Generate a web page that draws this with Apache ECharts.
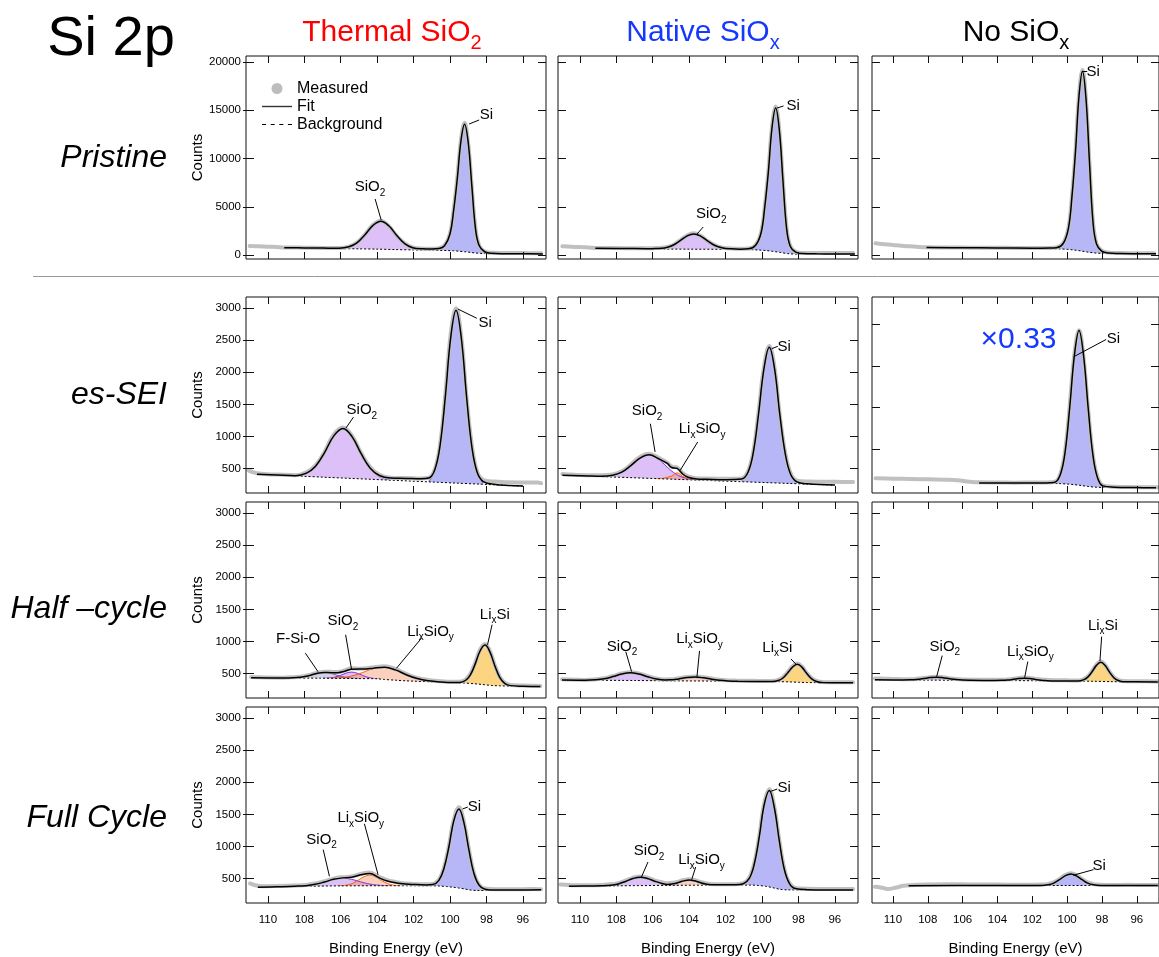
<!DOCTYPE html>
<html>
<head>
<meta charset="utf-8">
<script src="https://cdn.jsdelivr.net/npm/echarts@6/dist/echarts.min.js"></script>
<style>
  html, body { margin: 0; padding: 0; background: #fff; }
  #chart { width: 1159px; height: 957px; }
</style>
</head>
<body>
<div id="chart"></div>
<script>
// ---- data: binding energy (eV) vs counts ----
// row 1: pristine
const pThBg = [[109.1,700],[107,685],[106,660],[105,640],[104,610],[103,565],[102,530],[101,500],[100.6,485],[100.2,465],[99.8,440],[99.5,395],[99.2,340],[98.9,275],[98.6,210],[98.3,170],[98,145],[97.4,120],[96,105],[94.9,100]];
const pThSiO2 = [[106.1,655],[105.55,825],[105.11,1245],[104.68,2075],[104.24,3050],[103.8,3500],[103.36,3020],[102.93,2020],[102.49,1160],[102.05,715],[101.5,515]];
const pThSi = [[100.8,490],[100.3,900],[100,2150],[99.8,4600],[99.6,7900],[99.4,11800],[99.2,13540],[99,11650],[98.8,7100],[98.6,2700],[98.4,950],[98.1,300],[97.7,132]];
const pThFit = [[109.1,760],[108,740],[107,720],[106.1,700],[105.55,850],[105.11,1260],[104.68,2080],[104.24,3050],[103.8,3510],[103.36,3030],[102.93,2040],[102.49,1190],[102.05,760],[101.5,640],[101,620],[100.6,670],[100.3,960],[100,2180],[99.8,4620],[99.6,7910],[99.4,11810],[99.2,13550],[99,11660],[98.8,7115],[98.6,2715],[98.4,980],[98.1,340],[97.7,175],[97,140],[96,125],[94.9,115]];
const pThMeas = [[111,930],[110.5,900],[110,870],[109.5,830],[109.1,790],[108,760],[107,735],[106.1,720],[105.55,880],[105.11,1300],[104.68,2100],[104.24,3100],[103.8,3560],[103.36,3000],[102.93,2000],[102.49,1210],[102.05,790],[101.5,660],[101,640],[100.6,710],[100.3,980],[100,2200],[99.8,4700],[99.6,8000],[99.4,11900],[99.2,13700],[99,11500],[98.8,6950],[98.6,2750],[98.4,1000],[98.1,370],[97.7,230],[97,210],[96,200],[95,190]];
const pThLabels = [[104.39,7048,'SiO2'],[98.0,14508,'Si']];
const pThLeaders = [[[104.11,5805],[103.78,3630]],[[98.95,13575],[98.4,13990]]];

const pNaBg = [[109.15,640],[107,625],[106,620],[104,605],[102,590],[101,570],[100.6,550],[100.2,520],[99.8,470],[99.4,380],[99,270],[98.6,150],[98.2,100],[97.5,85],[96,75],[94.9,70]];
const pNaSiO2 = [[105.83,615],[105.35,707],[104.95,942],[104.55,1398],[104.15,1933],[103.75,2185],[103.35,1930],[102.95,1390],[102.55,929],[102.15,688],[101.67,585]];
const pNaSi = [[100.75,565],[100.35,970],[100.05,2290],[99.85,4940],[99.65,8620],[99.45,13200],[99.25,15230],[99.05,12950],[98.85,7680],[98.65,2710],[98.45,884],[98.15,250],[97.75,85]];
const pNaFit = [[109.15,700],[107.5,680],[106.3,660],[105.83,680],[105.35,740],[104.95,960],[104.55,1410],[104.15,1940],[103.75,2190],[103.35,1940],[102.95,1410],[102.55,960],[102.15,730],[101.67,640],[101.2,610],[100.75,640],[100.35,1010],[100.05,2310],[99.85,4950],[99.65,8630],[99.45,13210],[99.25,15240],[99.05,12960],[98.85,7700],[98.65,2740],[98.45,920],[98.15,300],[97.75,150],[97,120],[96,110],[94.9,105]];
const pNaMeas = [[110.96,900],[110.5,860],[110,820],[109.5,770],[109.15,740],[108,720],[107,700],[106.3,690],[105.83,720],[105.35,780],[104.95,980],[104.55,1450],[104.15,1980],[103.75,2250],[103.35,1960],[102.95,1400],[102.55,990],[102.15,760],[101.67,680],[101.2,650],[100.75,680],[100.35,1050],[100.05,2350],[99.85,5000],[99.65,8700],[99.45,13300],[99.25,15400],[99.05,12900],[98.85,7600],[98.65,2800],[98.45,950],[98.15,330],[97.75,220],[97,210],[96,200],[95,200]];
const pNaLabels = [[102.79,4251,'SiO2'],[98.29,15440,'Si']];
const pNaLeaders = [[[103.23,2904],[103.56,2180]],[[99.17,15232],[98.82,15440]]];

const pNoBg = [[108.07,740],[106,720],[104,700],[102,675],[101,660],[100.4,630],[100,590],[99.6,520],[99.2,420],[98.8,300],[98.4,210],[98,170],[97,120],[96,105],[94.9,100]];
const pNoSi = [[100.62,700],[100.22,1180],[99.92,2820],[99.72,6135],[99.52,10750],[99.32,16470],[99.12,19030],[98.92,16190],[98.72,9600],[98.52,3420],[98.32,1130],[98.02,350],[97.62,140]];
const pNoFit = [[108.07,780],[106,760],[104,740],[102,715],[101,720],[100.62,760],[100.22,1220],[99.92,2850],[99.72,6150],[99.52,10760],[99.32,16480],[99.12,19040],[98.92,16200],[98.72,9620],[98.52,3450],[98.32,1170],[98.02,400],[97.62,200],[97,160],[96,140],[94.9,130]];
const pNoMeas = [[111,1210],[110.5,1120],[110,1040],[109.5,960],[109,900],[108.5,840],[108.07,810],[107,780],[106,770],[105,760],[104,750],[103,740],[102,730],[101,740],[100.62,790],[100.22,1260],[99.92,2900],[99.72,6200],[99.52,10800],[99.32,16600],[99.12,19200],[98.92,16100],[98.72,9500],[98.52,3500],[98.32,1200],[98.02,450],[97.62,250],[97,210],[96,190],[95,180]];
const pNoLabels = [[98.51,18962,'Si']];
const pNoLeaders = [[[99.1,19000],[98.85,19000]]];

// row 2: es-SEI
const eThBg = [[110.6,410],[96,225]];
const eThSiO2 = [[108.48,383],[107.88,424],[107.38,531],[106.88,749],[106.38,1005],[105.88,1122],[105.38,992],[104.88,724],[104.38,494],[103.88,373],[103.28,317]];
const eThSi = [[101.17,300],[100.83,454],[100.54,849],[100.25,1625],[99.96,2537],[99.67,2965],[99.38,2530],[99.09,1610],[98.8,826],[98.51,425],[98.17,272]];
const eThFit = [[110.6,410],[109.5,398],[108.48,388],[107.88,428],[107.38,535],[106.88,752],[106.38,1008],[105.88,1125],[105.38,996],[104.88,730],[104.38,503],[103.88,390],[103.28,350],[102.4,345],[101.6,340],[101.17,350],[100.83,485],[100.54,870],[100.25,1640],[99.96,2545],[99.67,2968],[99.38,2535],[99.09,1615],[98.8,835],[98.51,440],[98.17,295],[97.5,250],[96.8,235],[96,225]];
const eThMeas = [[111.07,470],[110.8,440],[110.6,425],[110,410],[109.5,405],[108.48,395],[107.88,440],[107.38,550],[106.88,760],[106.38,1030],[105.88,1140],[105.38,1010],[104.88,740],[104.38,520],[103.88,400],[103.28,355],[102.4,350],[101.6,345],[101.17,355],[100.83,490],[100.54,880],[100.25,1680],[99.96,2600],[99.67,3000],[99.38,2550],[99.09,1600],[98.8,860],[98.51,450],[98.17,320],[97.6,295],[96.8,285],[96,282],[95.2,280],[95,270]];
const eThLabels = [[104.84,1412,'SiO2'],[98.07,2776,'Si']];
const eThLeaders = [[[105.30,1300],[105.72,1128]],[[99.57,2988],[98.53,2843]]];

const eNaBg = [[110.96,395],[96,240]];
const eNaSiO2 = [[108.8,373],[108.2,390],[107.7,438],[107.2,540],[106.7,659],[106.2,713],[105.7,648],[105.2,519],[104.7,407],[104.2,348],[103.6,319]];
const eNaLixSiOy = [[105.9,343],[105.5,344],[105.26,357],[104.96,383],[104.66,430],[104.36,377],[104.06,345],[103.8,327],[103.4,317]];
const eNaSi = [[101.12,308],[100.77,420],[100.48,728],[100.19,1334],[99.89,2047],[99.6,2380],[99.31,2041],[99.02,1322],[98.72,710],[98.43,396],[98.08,277]];
const eNaFit = [[110.96,395],[109.5,382],[108.8,378],[108.2,394],[107.7,443],[107.2,545],[106.7,662],[106.2,715],[105.7,655],[105.2,578],[104.96,515],[104.66,500],[104.36,415],[104.06,362],[103.6,335],[103,330],[102,325],[101.12,335],[100.77,440],[100.48,745],[100.19,1350],[99.89,2060],[99.6,2392],[99.31,2052],[99.02,1335],[98.72,725],[98.43,410],[98.08,290],[97.5,260],[96,240]];
const eNaMeas = [[110.96,412],[110.5,405],[110,398],[109.5,395],[108.8,392],[108.2,405],[107.7,455],[107.2,560],[106.7,680],[106.2,730],[105.7,672],[105.2,590],[104.96,530],[104.66,515],[104.36,430],[104.06,375],[103.6,348],[103,342],[102,338],[101.12,345],[100.77,450],[100.48,760],[100.19,1380],[99.89,2090],[99.6,2410],[99.31,2070],[99.02,1320],[98.72,740],[98.43,425],[98.08,310],[97.5,295],[96.5,292],[95.5,290],[95,288]];
const eNaLabels = [[106.31,1397,'SiO2'],[103.29,1116,'LixSiOy'],[98.79,2395,'Si']];
const eNaLeaders = [[[106.13,1198],[105.87,757]],[[103.53,913],[104.49,472]],[[99.47,2368],[99.13,2406]]];

// no-oxide es-SEI panel is plotted x0.33 on its own scale
const eNoBg = [[105.05,190],[101,185],[100.4,178],[100,170],[99.6,155],[99.2,135],[98.8,112],[98.4,95],[97.9,88],[96,82],[94.9,80]];
const eNoSi = [[100.69,200],[100.37,407],[100.11,948],[99.85,2011],[99.58,3258],[99.32,3840],[99.06,3238],[98.79,1957],[98.53,875],[98.27,323],[97.95,108]];
const eNoFit = [[105.05,195],[103,193],[101.5,195],[101,200],[100.69,215],[100.37,420],[100.11,960],[99.85,2020],[99.58,3265],[99.32,3845],[99.06,3245],[98.79,1965],[98.53,885],[98.27,335],[97.95,125],[97.3,95],[96,85],[94.9,80]];
const eNoMeas = [[111,307],[110,298],[109,290],[108,282],[107,272],[106.3,260],[105.6,225],[105.05,210],[104,205],[103,203],[102,205],[101.3,208],[100.69,225],[100.37,440],[100.11,990],[99.85,2060],[99.58,3300],[99.32,3850],[99.06,3200],[98.79,1930],[98.53,880],[98.27,350],[97.95,140],[97.3,105],[96,95],[94.8,90]];
const eNoLabels = [[97.35,3647,'Si'],[102.79,3618,'x0.33']];
const eNoLeaders = [[[99.62,3217],[97.76,3630]]];

// row 3: half cycle
const hThBg = [[110.92,432],[107.1,426],[105,420],[104,417],[103.6,406],[103,395],[102.4,384],[102,380],[101,369],[100,358],[99.6,354],[99.2,350],[98.7,340],[98.2,327],[97.7,312],[97.3,307],[96.5,302],[95.04,297]];
const hThFSiO = [[108.85,429],[108.4,434],[108.03,447],[107.65,472],[107.28,502],[106.9,515],[106.53,500],[106.15,468],[105.78,441],[105.4,427],[104.95,420]];
const hThSiO2 = [[106.96,425],[106.6,430],[106.3,444],[106,472],[105.7,506],[105.4,521],[105.1,504],[104.8,469],[104.5,439],[104.2,423],[103.84,411]];
const hThLixSiOy = [[106.7,424],[106,434],[105.4,461],[104.8,514],[104.2,577],[103.6,596],[103,555],[102.4,479],[101.8,418],[101.2,383],[100.5,364]];
const hThLixSi = [[99.48,358],[99.16,389],[98.89,474],[98.62,645],[98.35,849],[98.08,941],[97.81,835],[97.54,620],[97.27,437],[97,344],[96.68,308]];
const hThFit = [[110.92,432],[109.3,430],[108.85,430],[108.4,435],[108.03,448],[107.65,473],[107.28,503],[106.9,516],[106.53,512],[106.15,512],[105.78,535],[105.4,567],[105,568],[104.6,568],[104.2,583],[103.6,596],[103,556],[102.4,480],[101.8,420],[101.2,385],[100.5,366],[99.8,358],[99.48,360],[99.16,390],[98.89,475],[98.62,646],[98.35,850],[98.08,942],[97.81,836],[97.54,621],[97.27,438],[97,345],[96.68,310],[96,301],[95.04,297]];
const hThMeas = [[110.92,445],[110.5,440],[110,436],[109.3,434],[108.85,438],[108.4,445],[108.03,458],[107.65,482],[107.28,510],[106.9,528],[106.53,525],[106.15,522],[105.78,548],[105.4,580],[105,575],[104.6,580],[104.2,598],[103.6,612],[103,570],[102.4,492],[101.8,430],[101.2,398],[100.5,378],[99.8,370],[99.48,372],[99.16,400],[98.89,490],[98.62,665],[98.35,870],[98.08,960],[97.81,850],[97.54,630],[97.27,450],[97,358],[96.68,322],[96,312],[95.04,305]];
const hThLabels = [[108.34,1038,'F-Si-O'],[105.88,1314,'SiO2'],[101.07,1156,'LixSiOy'],[97.54,1418,'LixSi']];
const hThLeaders = [[[107.94,816],[107.25,529]],[[105.73,1103],[105.40,554]],[[101.56,1052],[102.94,581]],[[97.69,1261],[97.94,947]]];

const hNaBg = [[110.98,396],[107,390],[105,385],[102,380],[100,375],[99,372],[98.5,368],[98,362],[97.5,358],[96.5,356],[95,355]];
const hNaSiO2 = [[109.7,394],[109.13,401],[108.66,417],[108.18,451],[107.7,491],[107.23,510],[106.76,490],[106.28,448],[105.8,412],[105.33,394],[104.76,385]];
const hNaLixSiOy = [[106,387],[105.47,390],[105.02,398],[104.57,414],[104.12,434],[103.67,443],[103.22,432],[102.77,411],[102.32,393],[101.87,383],[101.33,378]];
const hNaLixSi = [[99.43,372],[99.11,388],[98.85,428],[98.59,508],[98.32,600],[98.06,641],[97.8,594],[97.54,497],[97.27,415],[97.01,374],[96.69,356]];
const hNaFit = [[110.98,396],[109.7,394],[109.13,401],[108.66,417],[108.18,451],[107.7,491],[107.23,510],[106.76,490],[106.28,449],[105.8,414],[105.33,399],[105.02,400],[104.57,415],[104.12,435],[103.67,443],[103.22,432],[102.77,411],[102.32,393],[101.87,383],[101.33,378],[100,375],[99.43,373],[99.11,389],[98.85,429],[98.59,509],[98.32,601],[98.06,642],[97.8,595],[97.54,498],[97.27,416],[97.01,375],[96.69,357],[95,355]];
const hNaMeas = [[110.98,408],[110.5,404],[110,400],[109.7,398],[109.13,408],[108.66,425],[108.18,460],[107.7,500],[107.23,520],[106.76,500],[106.28,458],[105.8,420],[105.33,406],[105.02,408],[104.57,424],[104.12,444],[103.67,452],[103.22,440],[102.77,420],[102.32,402],[101.87,392],[101.33,388],[100.5,385],[100,383],[99.43,381],[99.11,398],[98.85,440],[98.59,520],[98.32,612],[98.06,655],[97.8,605],[97.54,505],[97.27,425],[97.01,385],[96.69,368],[96,364],[95,362]];
const hNaLabels = [[107.69,919,'SiO2'],[103.43,1039,'LixSiOy'],[99.16,904,'LixSi']];
const hNaLeaders = [[[107.48,841],[107.16,529]],[[103.43,852],[103.57,450]],[[98.41,726],[98.13,643]]];

const hNoBg = [[111.03,401],[108,396],[104,390],[101,385],[99.6,382],[98.5,378],[97.5,372],[96.5,370],[94.8,368]];
const hNoSiO2 = [[109.45,398],[109,400],[108.63,407],[108.25,420],[107.88,435],[107.5,442],[107.13,434],[106.75,418],[106.38,404],[106,396],[105.55,393]];
const hNoLixSiOy = [[104.15,390],[103.76,392],[103.44,397],[103.11,408],[102.79,422],[102.46,427],[102.14,421],[101.81,406],[101.49,394],[101.16,388],[100.77,384]];
const hNoLixSi = [[99.37,381],[99.07,399],[98.82,442],[98.57,527],[98.32,626],[98.07,673],[97.82,623],[97.57,521],[97.32,434],[97.07,390],[96.77,370]];
const hNoFit = [[111.03,401],[109.45,398],[109,400],[108.63,407],[108.25,420],[107.88,435],[107.5,442],[107.13,434],[106.75,418],[106.38,404],[106,396],[105.55,393],[104.15,390],[103.76,392],[103.44,397],[103.11,408],[102.79,422],[102.46,427],[102.14,421],[101.81,406],[101.49,394],[101.16,388],[100.77,384],[99.37,381],[99.07,399],[98.82,442],[98.57,527],[98.32,626],[98.07,673],[97.82,623],[97.57,521],[97.32,434],[97.07,390],[96.77,370],[94.8,368]];
const hNoMeas = [[111.03,422],[110.5,418],[110,414],[109.45,410],[109,410],[108.63,416],[108.25,428],[107.88,442],[107.5,450],[107.13,442],[106.75,426],[106.38,413],[106,406],[105,402],[104.15,400],[103.76,402],[103.44,406],[103.11,416],[102.79,430],[102.46,435],[102.14,430],[101.81,415],[101.49,404],[101,397],[100,392],[99.37,390],[99.07,408],[98.82,452],[98.57,538],[98.32,636],[98.07,685],[97.82,632],[97.57,528],[97.32,442],[97.07,400],[96.77,382],[96,378],[94.8,376]];
const hNoLabels = [[107.02,919,'SiO2'],[102.11,841,'LixSiOy'],[97.95,1247,'LixSi']];
const hNoLeaders = [[[107.17,778],[107.49,450]],[[102.26,685],[102.44,434]],[[98.02,1075],[98.12,694]]];

// row 4: full cycle
const fThBg = [[110.55,360],[108,378],[106,384],[104,386],[101.2,386],[100.6,382],[100.2,374],[99.8,362],[99.5,350],[99.2,336],[98.9,320],[98.5,312],[97.5,315],[95,322]];
const fThSiO2 = [[108.5,378],[107.9,387],[107.4,407],[106.9,443],[106.4,485],[105.9,506],[105.4,486],[104.9,446],[104.4,412],[103.9,394],[103.3,386]];
const fThLixSiOy = [[106.1,384],[105.71,394],[105.39,419],[105.06,468],[104.74,524],[104.41,551],[104.09,525],[103.76,469],[103.44,421],[103.11,396],[102.72,386]];
const fThSi = [[100.94,395],[100.61,459],[100.34,637],[100.06,987],[99.79,1396],[99.51,1581],[99.24,1371],[98.96,936],[98.69,574],[98.41,389],[98.08,323]];
const fThFit = [[110.55,362],[109.5,370],[108.5,379],[107.9,388],[107.4,408],[106.9,444],[106.4,486],[105.9,509],[105.4,519],[104.9,557],[104.41,577],[103.9,510],[103.44,460],[103.11,440],[102.72,420],[102,405],[101.3,398],[100.94,405],[100.61,470],[100.34,648],[100.06,995],[99.79,1402],[99.51,1585],[99.24,1375],[98.96,942],[98.69,582],[98.41,398],[98.08,332],[97.5,318],[96,320],[95,322]];
const fThMeas = [[110.98,422],[110.7,395],[110.3,380],[109.5,382],[108.5,390],[107.9,398],[107.4,420],[106.9,455],[106.4,498],[105.9,520],[105.4,532],[104.9,570],[104.41,592],[103.9,525],[103.44,475],[103.11,452],[102.72,430],[102,415],[101.3,408],[100.94,415],[100.61,480],[100.34,660],[100.06,1010],[99.79,1420],[99.51,1610],[99.24,1390],[98.96,950],[98.69,590],[98.41,405],[98.08,342],[97.5,330],[96.5,332],[95.5,335],[95,333]];
const fThLabels = [[98.66,1623,'Si'],[104.90,1442,'LixSiOy'],[107.05,1105,'SiO2']];
const fThLeaders = [[[99.31,1584],[99.02,1615]],[[104.70,1353],[103.95,559]],[[106.96,949],[106.62,534]]];

const fNaBg = [[110.6,375],[108,385],[105,392],[102.3,396],[100.6,396],[100.2,390],[99.8,378],[99.4,355],[99,330],[98.6,322],[97,320],[95,318]];
const fNaSiO2 = [[108.77,385],[108.29,394],[107.89,414],[107.49,452],[107.09,497],[106.69,518],[106.29,498],[105.89,455],[105.49,419],[105.09,400],[104.61,393]];
const fNaLixSiOy = [[105.56,392],[105.2,397],[104.9,410],[104.6,434],[104.3,461],[104,475],[103.7,462],[103.4,435],[103.1,412],[102.8,400],[102.44,396]];
const fNaSi = [[101.03,408],[100.7,490],[100.43,708],[100.15,1139],[99.88,1642],[99.6,1867],[99.33,1610],[99.05,1082],[98.78,640],[98.5,416],[98.17,333]];
const fNaFit = [[110.6,378],[109.5,382],[108.77,386],[108.29,395],[107.89,415],[107.49,453],[107.09,498],[106.69,519],[106.29,499],[105.89,457],[105.49,421],[105.2,406],[104.9,416],[104.6,436],[104.3,462],[104,476],[103.7,463],[103.4,436],[103.1,413],[102.8,402],[102.2,400],[101.5,402],[101.03,418],[100.7,500],[100.43,718],[100.15,1148],[99.88,1650],[99.6,1872],[99.33,1615],[99.05,1088],[98.78,648],[98.5,425],[98.17,342],[97.5,325],[96,320],[95,318]];
const fNaMeas = [[111.07,406],[110.6,398],[110,392],[109.5,394],[108.77,398],[108.29,408],[107.89,428],[107.49,466],[107.09,510],[106.69,532],[106.29,512],[105.89,470],[105.49,440],[105.2,425],[104.9,432],[104.6,450],[104.3,475],[104,488],[103.7,475],[103.4,448],[103.1,425],[102.8,414],[102.2,410],[101.5,410],[101.03,425],[100.7,510],[100.43,730],[100.15,1160],[99.88,1670],[99.6,1890],[99.33,1630],[99.05,1095],[98.78,655],[98.5,432],[98.17,352],[97.5,338],[96.5,336],[95.5,334],[95,335]];
const fNaLabels = [[98.79,1911,'Si'],[106.20,923,'SiO2'],[103.32,783,'LixSiOy']];
const fNaLeaders = [[[99.52,1860],[99.16,1895]],[[106.26,756],[106.62,522]],[[103.64,679],[103.86,481]]];

const fNoBg = [[109.1,387],[100,390],[94.8,388]];
const fNoSi = [[101.48,390],[101.09,401],[100.77,427],[100.44,479],[100.12,540],[99.79,568],[99.47,540],[99.14,479],[98.82,426],[98.49,400],[98.1,389]];
const fNoFit = [[109.1,388],[105,389],[101.48,391],[101.09,402],[100.77,428],[100.44,480],[100.12,541],[99.79,569],[99.47,541],[99.14,480],[98.82,427],[98.49,401],[98.1,390],[94.8,389]];
const fNoMeas = [[111.03,370],[110.7,360],[110.3,335],[109.8,360],[109.4,385],[109,395],[108,405],[107,410],[106,408],[105,406],[104,404],[103,402],[102,403],[101.48,405],[101.09,415],[100.77,440],[100.44,492],[100.12,552],[99.79,580],[99.47,552],[99.14,490],[98.82,438],[98.49,412],[98.1,402],[97.5,398],[96.5,400],[95.5,398],[94.8,396]];
const fNoLabels = [[98.17,690,'Si']];
const fNoLeaders = [[[98.49,637],[99.66,549]]];

// axes
const xTicks = [96, 98, 100, 102, 104, 106, 108, 110];
const yTicksPristine = [0, 5000, 10000, 15000, 20000];
const yTicksLow = [500, 1000, 1500, 2000, 2500, 3000];
const yTicksScaled = [1000, 2000, 3000, 4000];

// ---- layout ----
const FONT = 'Liberation Sans, Arial, Helvetica, sans-serif';
const colLeft = [246, 558, 872];
const rowTop = [56, 297, 502, 707];
const rowHeight = [203, 196, 196, 196];
const xMin = 94.73, xMax = 111.2;

const compStyle = {
  Si:      { fill: 'rgba(105,105,240,0.48)', line: '#2b2b9a' },
  SiO2:    { fill: 'rgba(172,105,235,0.42)', line: '#8a2be2' },
  LixSiOy: { fill: 'rgba(246,140,90,0.40)',  line: '#ff5a00' },
  LixSi:   { fill: 'rgba(250,178,30,0.55)',  line: '#c98400' },
  FSiO:    { fill: 'rgba(130,130,190,0.35)', line: '#5a5aa0' }
};

const richText = {
  'Si': 'Si',
  'SiO2': 'SiO{s|2}',
  'LixSiOy': 'Li{s|x}SiO{s|y}',
  'LixSi': 'Li{s|x}Si',
  'F-Si-O': 'F-Si-O',
  'x0.33': '{big|\u00d70.33}'
};

const panels = [
  { r: 0, c: 0, meas: pThMeas, fit: pThFit, bg: pThBg, comps: [['SiO2', pThSiO2], ['Si', pThSi]], labels: pThLabels, leaders: pThLeaders },
  { r: 0, c: 1, meas: pNaMeas, fit: pNaFit, bg: pNaBg, comps: [['SiO2', pNaSiO2], ['Si', pNaSi]], labels: pNaLabels, leaders: pNaLeaders },
  { r: 0, c: 2, meas: pNoMeas, fit: pNoFit, bg: pNoBg, comps: [['Si', pNoSi]], labels: pNoLabels, leaders: pNoLeaders },
  { r: 1, c: 0, meas: eThMeas, fit: eThFit, bg: eThBg, comps: [['SiO2', eThSiO2], ['Si', eThSi]], labels: eThLabels, leaders: eThLeaders },
  { r: 1, c: 1, meas: eNaMeas, fit: eNaFit, bg: eNaBg, comps: [['SiO2', eNaSiO2], ['LixSiOy', eNaLixSiOy], ['Si', eNaSi]], labels: eNaLabels, leaders: eNaLeaders },
  { r: 1, c: 2, meas: eNoMeas, fit: eNoFit, bg: eNoBg, comps: [['Si', eNoSi]], labels: eNoLabels, leaders: eNoLeaders, scaled: true },
  { r: 2, c: 0, meas: hThMeas, fit: hThFit, bg: hThBg, comps: [['FSiO', hThFSiO], ['SiO2', hThSiO2], ['LixSiOy', hThLixSiOy], ['LixSi', hThLixSi]], labels: hThLabels, leaders: hThLeaders },
  { r: 2, c: 1, meas: hNaMeas, fit: hNaFit, bg: hNaBg, comps: [['SiO2', hNaSiO2], ['LixSiOy', hNaLixSiOy], ['LixSi', hNaLixSi]], labels: hNaLabels, leaders: hNaLeaders },
  { r: 2, c: 2, meas: hNoMeas, fit: hNoFit, bg: hNoBg, comps: [['SiO2', hNoSiO2], ['LixSiOy', hNoLixSiOy], ['LixSi', hNoLixSi]], labels: hNoLabels, leaders: hNoLeaders },
  { r: 3, c: 0, meas: fThMeas, fit: fThFit, bg: fThBg, comps: [['SiO2', fThSiO2], ['LixSiOy', fThLixSiOy], ['Si', fThSi]], labels: fThLabels, leaders: fThLeaders },
  { r: 3, c: 1, meas: fNaMeas, fit: fNaFit, bg: fNaBg, comps: [['SiO2', fNaSiO2], ['LixSiOy', fNaLixSiOy], ['Si', fNaSi]], labels: fNaLabels, leaders: fNaLeaders },
  { r: 3, c: 2, meas: fNoMeas, fit: fNoFit, bg: fNoBg, comps: [['Si', fNoSi]], labels: fNoLabels, leaders: fNoLeaders }
];

const grids = [], xAxes = [], yAxes = [], series = [];
const extraY = [];

panels.forEach((p, i) => {
  const isBottom = p.r === 3, isLeft = p.c === 0;
  let yMin = 117, yMax = 3175, yTicks = yTicksLow;
  if (p.r === 0) { yMin = -411; yMax = 20620; yTicks = yTicksPristine; }
  if (p.scaled) { yMin = -45; yMax = 4646; yTicks = yTicksScaled; }

  grids.push({
    left: colLeft[p.c], top: rowTop[p.r], width: 300, height: rowHeight[p.r],
    show: true, borderColor: '#111', borderWidth: 1, backgroundColor: 'transparent', z: 10
  });

  const xBase = {
    gridIndex: i, type: 'value', min: xMin, max: xMax, inverse: true, z: 10,
    axisLine: { show: false, onZero: false }, splitLine: { show: false },
    axisTick: { show: true, inside: true, length: 7, customValues: xTicks, lineStyle: { color: '#111' } }
  };
  xAxes.push(Object.assign({}, xBase, {
    position: 'bottom',
    axisLabel: { show: isBottom, customValues: xTicks, fontSize: 11.5, color: '#000', margin: 11, fontFamily: FONT },
    name: isBottom ? 'Binding Energy (eV)' : '', nameLocation: 'middle', nameGap: 38,
    nameTextStyle: { fontSize: 15, color: '#000', fontFamily: FONT }
  }));
  xAxes.push(Object.assign({}, xBase, { position: 'top', axisLabel: { show: false } }));

  const yBase = {
    gridIndex: i, type: 'value', min: yMin, max: yMax, z: 10,
    axisLine: { show: false, onZero: false }, splitLine: { show: false },
    axisTick: { show: true, inside: true, length: 8, customValues: yTicks, lineStyle: { color: '#111' } }
  };
  yAxes.push(Object.assign({}, yBase, {
    position: 'left',
    axisLabel: { show: isLeft, customValues: yTicks, formatter: v => String(v), fontSize: 11.5, color: '#000', margin: 5, fontFamily: FONT },
    name: isLeft ? 'Counts' : '', nameLocation: 'middle', nameGap: 41, nameRotate: 90,
    nameTextStyle: { fontSize: 15, color: '#000', fontFamily: FONT }
  }));
  yAxes.push(Object.assign({}, yBase, { position: 'right', axisLabel: { show: false } }));
  // labelled axes also carry short outer ticks
  if (isLeft) {
    extraY.push(Object.assign({}, yBase, {
      position: 'left', axisLabel: { show: false },
      axisTick: { show: true, inside: false, length: 3, customValues: yTicks, lineStyle: { color: '#111' } }
    }));
  }

  const ax = { xAxisIndex: 2 * i, yAxisIndex: 2 * i };

  // fitted components, filled from the background
  p.comps.forEach(([key, data]) => {
    const st = compStyle[key];
    series.push(Object.assign({
      type: 'line', data: data, smooth: 0.4, symbol: 'none', silent: true, z: 1,
      lineStyle: { color: st.line, width: 1 },
      areaStyle: { color: st.fill, opacity: 1, origin: 'start' }
    }, ax));
  });

  // background: dotted line, white underneath so the fills stop at it
  series.push(Object.assign({
    name: 'Background', type: 'line', data: p.bg, smooth: 0.3, symbol: 'none', silent: true, z: 2,
    lineStyle: { color: '#000', width: 1, type: [2, 2] },
    itemStyle: { color: '#000' },
    areaStyle: { color: '#fff', opacity: 1, origin: 'start' }
  }, ax));

  series.push(Object.assign({
    name: 'Measured', type: 'line', data: p.meas, smooth: 0.4, symbol: 'none', silent: true, z: 3,
    lineStyle: { color: '#c0c0c0', width: 4, cap: 'round', join: 'round' },
    itemStyle: { color: '#bdbdbd' }
  }, ax));

  series.push(Object.assign({
    name: 'Fit', type: 'line', data: p.fit, smooth: 0.4, symbol: 'none', silent: true, z: 4,
    lineStyle: { color: '#000', width: 1.5 },
    itemStyle: { color: '#000' }
  }, ax));

  // peak labels with leader lines
  series.push(Object.assign({
    type: 'scatter', silent: true, z: 6, symbolSize: 1,
    itemStyle: { color: 'rgba(0,0,0,0)', opacity: 1 },
    data: p.labels.map(l => ({ value: [l[0], l[1]], label: { formatter: richText[l[2]] } })),
    label: {
      show: true, position: 'inside', align: 'center', verticalAlign: 'middle', opacity: 1,
      fontSize: 15, lineHeight: 22, color: '#000', fontFamily: FONT,
      rich: {
        s: { fontSize: 10, lineHeight: 11, verticalAlign: 'bottom', color: '#000', fontFamily: FONT },
        big: { fontSize: 30, lineHeight: 34, color: '#1438ff', fontFamily: FONT }
      }
    },
    emphasis: { disabled: true },
    markLine: {
      silent: true, symbol: ['none', 'none'], label: { show: false },
      lineStyle: { color: '#000', width: 1, type: 'solid', opacity: 1 },
      data: p.leaders.map(([a, b]) => [{ coord: a }, { coord: b }])
    }
  }, ax));
});

const titleRich = (color) => ({
  s: { fontSize: 20, lineHeight: 20, verticalAlign: 'bottom', fill: color, fontFamily: FONT }
});

function txt(x, y, text, opts) {
  return {
    type: 'text', x: x, y: y, silent: true, z: 20,
    style: Object.assign({
      text: text, fill: '#000', fontFamily: FONT, fontSize: 30,
      align: 'center', verticalAlign: 'middle', textAlign: 'center', textVerticalAlign: 'middle'
    }, opts || {})
  };
}

const graphics = [
  txt(111, 40, 'Si 2p', { fontSize: 56 }),
  txt(392, 33, 'Thermal SiO{s|2}', { fill: '#ff0000', lineHeight: 40, rich: titleRich('#ff0000') }),
  txt(703, 33, 'Native SiO{s|x}', { fill: '#1438ff', lineHeight: 40, rich: titleRich('#1438ff') }),
  txt(1016, 33, 'No SiO{s|x}', { fill: '#000', lineHeight: 40, rich: titleRich('#000') }),
  txt(167, 158, 'Pristine', { fontStyle: 'italic', fontSize: 32, align: 'right', textAlign: 'right' }),
  txt(167, 395, 'es-SEI', { fontStyle: 'italic', fontSize: 32, align: 'right', textAlign: 'right' }),
  txt(167, 609, 'Half \u2013cycle', { fontStyle: 'italic', fontSize: 32, align: 'right', textAlign: 'right' }),
  txt(167, 818, 'Full Cycle', { fontStyle: 'italic', fontSize: 32, align: 'right', textAlign: 'right' }),
  { type: 'line', silent: true, z: 20, shape: { x1: 33, y1: 276.5, x2: 1159, y2: 276.5 }, style: { stroke: '#9a9a9a', lineWidth: 1 } }
];

// legend icons: grey dot, solid line, dashed line
const iconLine = 'path://M0,0h30v1.4h-30z';
const iconDash = 'path://M0,0h4v1.2h-4zM8.5,0h4v1.2h-4zM17,0h4v1.2h-4zM25.5,0h4v1.2h-4z';

const chart = echarts.init(document.getElementById('chart'), null, { renderer: 'canvas' });
chart.setOption({
  animation: false,
  backgroundColor: '#fff',
  textStyle: { fontFamily: FONT },
  legend: {
    left: 257, top: 75, orient: 'vertical', selectedMode: false,
    itemWidth: 30, itemHeight: 11, itemGap: 1,
    textStyle: { fontSize: 16, lineHeight: 17, color: '#000', fontFamily: FONT },
    data: [
      { name: 'Measured', icon: 'circle', itemStyle: { color: '#bdbdbd' } },
      { name: 'Fit', icon: iconLine, itemStyle: { color: '#333' } },
      { name: 'Background', icon: iconDash, itemStyle: { color: '#000' } }
    ]
  },
  grid: grids,
  xAxis: xAxes,
  yAxis: yAxes.concat(extraY),
  series: series,
  graphic: graphics
});
</script>
</body>
</html>
